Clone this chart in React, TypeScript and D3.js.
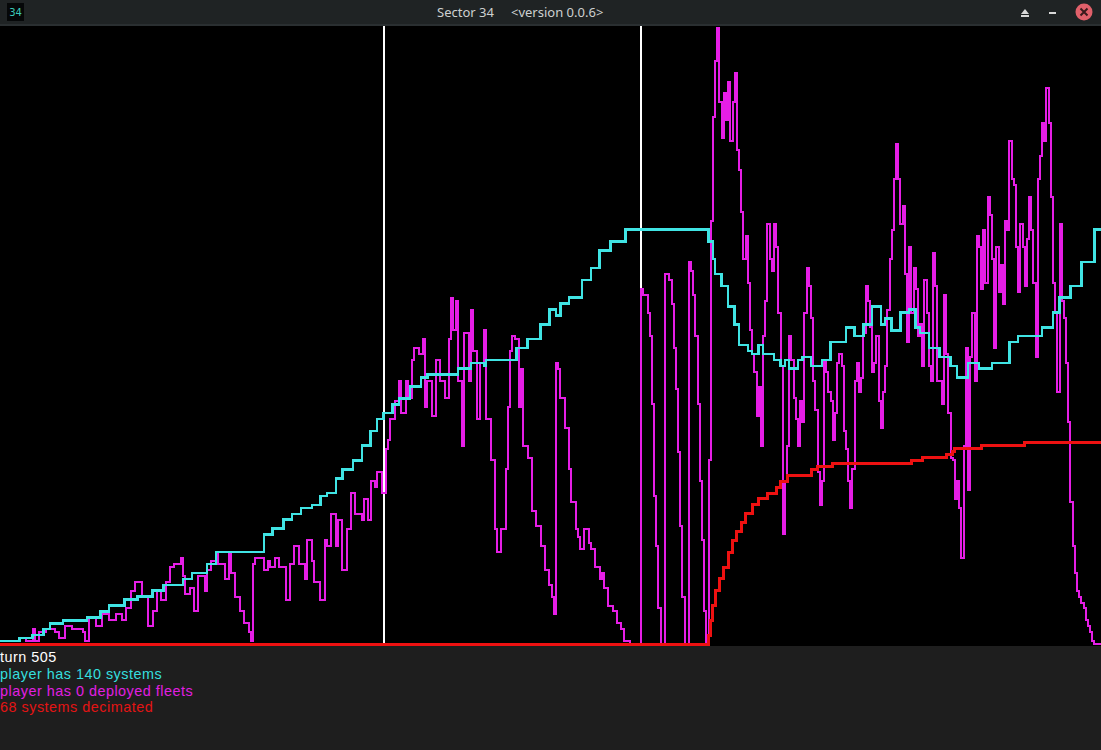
import React from "react";
import * as d3 from "d3";

// ---- data (turns / counts) ----
const TOTAL_TURNS = 505;
const markerTurns = [176, 294];

const systemTurns = [0, 9, 15, 20, 23, 29, 40, 46, 50, 57, 63, 70, 75, 84, 88, 95, 99, 121, 125, 130, 134, 138, 143, 147, 150, 154, 157, 162, 166, 170, 173, 176, 180, 183, 188, 193, 196, 210, 216, 222, 223, 237, 242, 248, 252, 255, 257, 261, 267, 271, 275, 280, 287, 325, 327, 328, 331, 334, 337, 339, 343, 345, 348, 350, 355, 358, 360, 362, 366, 368, 372, 377, 381, 388, 392, 396, 400, 404, 406, 409, 413, 417, 420, 422, 426, 431, 436, 439, 444, 449, 455, 460, 463, 467, 472, 478, 483, 486, 491, 496, 502, 505];
const systemValues = [1, 2, 3, 5, 7, 8, 9, 11, 13, 15, 16, 18, 20, 22, 24, 27, 31, 37, 39, 42, 44, 46, 47, 50, 51, 56, 59, 62, 67, 72, 76, 78, 81, 83, 87, 90, 91, 93, 95, 94, 96, 100, 103, 108, 113, 111, 115, 117, 123, 127, 133, 136, 140, 136, 130, 125, 121, 114, 108, 101, 99, 98, 101, 98, 96, 94, 96, 93, 96, 97, 94, 96, 102, 107, 104, 108, 114, 108, 110, 106, 112, 113, 107, 105, 100, 97, 94, 90, 95, 93, 95, 95, 102, 104, 104, 107, 112, 117, 121, 129, 140, 140];

const fleetTurns = [0, 5, 9, 12, 15, 16, 18, 21, 23, 25, 27, 30, 33, 36, 38, 39, 41, 44, 47, 50, 53, 56, 58, 60, 62, 65, 68, 70, 72, 74, 76, 78, 80, 83, 84, 85, 87, 89, 91, 94, 95, 97, 99, 100, 103, 105, 106, 108, 110, 112, 114, 115, 116, 117, 119, 121, 123, 124, 126, 128, 131, 133, 135, 137, 140, 141, 143, 144, 147, 149, 150, 152, 154, 155, 157, 159, 161, 163, 166, 167, 169, 170, 172, 173, 175, 177, 178, 179, 181, 183, 184, 186, 187, 189, 190, 192, 194, 195, 196, 198, 200, 202, 204, 206, 207, 208, 209, 210, 212, 213, 215, 216, 217, 219, 220, 222, 223, 225, 227, 228, 230, 232, 233, 234, 235, 236, 238, 239, 240, 242, 244, 246, 248, 250, 252, 253, 254, 255, 256, 257, 259, 261, 262, 264, 265, 266, 268, 270, 271, 273, 275, 276, 277, 279, 281, 283, 285, 286, 289, 293,
  294, 295, 296, 297, 298, 299, 300, 301, 302, 303, 304, 305, 306, 307, 308, 309, 310, 311, 312, 313, 314, 315, 316, 317, 318, 319, 320, 321, 322, 323, 324, 325, 326, 327, 328, 329, 330, 331, 332, 333, 334, 335, 336, 337, 338, 339, 340, 341, 342, 343, 344, 345, 346, 347, 348, 349, 350, 351, 352, 353, 354, 355, 356, 357, 358, 359, 360, 361, 362, 363, 364, 365, 366, 367,
  368, 369, 370, 371, 372, 373, 374, 375, 376, 377, 378, 379, 380, 381, 382, 383, 384, 385, 386, 387, 388, 389, 390, 391, 392, 393, 394, 395, 396, 397, 398, 399, 400, 401, 402, 403, 404, 405, 406, 407, 408, 409, 410, 411, 412, 413, 414, 415, 416, 417, 418, 419, 420, 421, 422, 423, 424, 425, 426, 427, 428, 429, 430, 431, 432, 433, 434, 435, 436, 437, 438, 439, 440, 441, 442, 443, 444, 445, 446, 447, 448, 449, 450, 451, 452, 453, 454, 455, 456, 457, 458, 459, 460, 461, 462, 463, 464, 465, 466, 467, 468, 469, 470, 471, 472, 473, 474, 475, 476, 477, 478, 479, 480, 481, 482, 483, 484, 485, 486, 487, 488, 489, 490, 491, 492, 493, 494, 495, 496, 497, 498, 499, 500, 501, 502, 505];
const fleetValues = [1, 1, 2, 1, 5, 1, 4, 5, 5, 4, 2, 6, 5, 5, 4, 1, 9, 6, 10, 8, 10, 8, 12, 18, 21, 16, 6, 11, 18, 15, 21, 26, 27, 29, 23, 17, 19, 11, 23, 18, 25, 28, 31, 27, 22, 31, 24, 16, 11, 7, 4, 1, 27, 29, 29, 25, 28, 26, 29, 26, 15, 27, 33, 27, 22, 35, 28, 21, 15, 35, 33, 44, 33, 42, 25, 39, 51, 44, 42, 49, 42, 55, 53, 58, 51, 66, 69, 76, 82, 89, 78, 89, 83, 96, 100, 98, 103, 80, 89, 77, 96, 89, 83, 103, 117, 106, 116, 89, 67, 105, 89, 113, 99, 76, 95, 106, 76, 62, 39, 31, 39, 59, 80, 99, 104, 103, 80, 93, 67, 63, 45, 40, 33, 25, 20, 16, 10, 95, 93, 83, 73, 59, 48, 39, 36, 32, 39, 34, 32, 26, 22, 24, 19, 13, 11, 7, 5, 1, 0, 0,
  120, 118, 118, 112, 104, 81, 50, 33, 12, 0, 0, 125, 125, 123, 115, 100, 86, 65, 40, 16, 0, 0, 129, 126, 118, 104, 81, 55, 35, 11, 0, 62, 143, 178, 197, 208, 183, 171, 186, 177, 190, 170, 183, 193, 167, 160, 146, 130, 138, 122, 106, 98, 92, 77, 87, 67, 104, 116, 142, 130, 126, 142, 134, 112, 94, 37, 55, 67, 104, 96, 83, 76, 67, 82,
  75, 112, 127, 121, 110, 89, 79, 58, 47, 55, 96, 92, 85, 82, 69, 78, 95, 98, 94, 72, 66, 55, 46, 59, 89, 95, 85, 90, 105, 121, 116, 107, 92, 95, 104, 82, 73, 85, 94, 113, 130, 140, 157, 169, 157, 142, 148, 125, 102, 134, 112, 127, 120, 104, 108, 94, 123, 112, 94, 89, 132, 121, 89, 89, 81, 118, 98, 78, 63, 62, 49, 55, 46, 29, 67, 100, 52, 97, 112, 89, 138, 134, 120, 140, 122, 151, 145, 130, 100, 134, 119, 128, 115, 143, 140, 170, 157, 155, 134, 119, 142, 134, 121, 137, 151, 140, 122, 97, 157, 165, 176, 170, 188, 176, 151, 122, 112, 85, 142, 116, 110, 95, 75, 48, 33, 24, 18, 16, 14, 12, 8, 6, 4, 1, 0, 0];

const decimatedTurns = [0, 324, 325, 326, 327, 328, 330, 332, 334, 336, 338, 340, 342, 345, 348, 352, 356, 358, 361, 372, 375, 382, 418, 423, 434, 437, 438, 450, 470, 505];
const decimatedValues = [0, 0, 3, 8, 13, 18, 22, 26, 31, 35, 38, 41, 44, 47, 49, 51, 53, 55, 57, 59, 60, 61, 62, 63, 64, 65, 66, 67, 68, 68];

const titleText = "Sector 34";
const versionText = "<version 0.0.6>";
const iconText = "34";
const statusTexts = [
  "turn 505",
  "player has 140 systems",
  "player has 0 deployed fleets",
  "68 systems decimated",
];

const zip = (ts: number[], vs: number[]): [number, number][] => ts.map((t, i) => [t, vs[i]]);

export default function App() {
  const W = 1101;
  const H = 750;
  const x = d3.scaleLinear().domain([0, TOTAL_TURNS]).range([0, W]);
  const y = d3.scaleLinear().domain([0, 208.8]).range([644, 26]);
  const line = d3
    .line<[number, number]>()
    .x((d) => x(d[0]))
    .y((d) => y(d[1]))
    .curve(d3.curveStepAfter);

  const statusColors = ["#ffffff", "#35dede", "#e21ee2", "#e41414"];

  return (
    <div style={{ position: "absolute", left: 0, top: 0, width: W, height: H, overflow: "hidden" }}>
      <svg width={W} height={H} style={{ display: "block" }}>
        <rect x={0} y={0} width={W} height={H} fill="#1e1e1e" />
        {/* title bar */}
        <rect x={0} y={0} width={W} height={26} fill="#1f2324" />
        <rect x={0} y={24} width={W} height={2} fill="#2a2f31" />
        <rect x={7} y={3} width={17} height={18} fill="#050708" />
        <text x={15.5} y={16} textAnchor="middle" fontFamily="'DejaVu Sans', sans-serif" fontSize={10} fill="#3cc9b8">
          {iconText}
        </text>
        <text x={437} y={17} fontFamily="'Noto Sans', sans-serif" fontSize={13} fill="#cdd0d0">
          {titleText}
        </text>
        <text x={511} y={17} fontFamily="'Noto Sans', sans-serif" fontSize={13} fill="#cdd0d0">
          {versionText}
        </text>
        <path d="M1021,14 L1025,9 L1029,14 Z" fill="#d8d8d8" />
        <rect x={1021} y={15} width={8} height={2} fill="#d8d8d8" />
        <rect x={1049} y={12} width={7} height={2} fill="#d8d8d8" />
        <circle cx={1084} cy={12} r={8.5} fill="#e0606a" />
        <path d="M1080.5,8.5 L1087.5,15.5 M1087.5,8.5 L1080.5,15.5" stroke="#3a1a1c" strokeWidth={2} />

        {/* plot */}
        <rect x={0} y={26} width={W} height={620} fill="#000000" />
        {markerTurns.map((t) => (
          <line key={t} x1={x(t)} x2={x(t)} y1={26} y2={644} stroke="#ffffff" strokeWidth={2} shapeRendering="crispEdges" />
        ))}
        <path d={line(zip(fleetTurns, fleetValues)) || ""} fill="none" stroke="#e61ee6" strokeWidth={2} shapeRendering="crispEdges" />
        <path d={line(zip(systemTurns, systemValues)) || ""} fill="none" stroke="#40e4e4" strokeWidth={2.5} shapeRendering="crispEdges" />
        <path d={line(zip(decimatedTurns, decimatedValues)) || ""} fill="none" stroke="#ee1111" strokeWidth={3} shapeRendering="crispEdges" />

        {/* status footer */}
        {statusTexts.map((s, i) => (
          <text
            key={s}
            x={0}
            y={662 + i * 16.8}
            fontFamily="'Liberation Sans', Arial, sans-serif"
            fontSize={14.4}
            letterSpacing={0.5}
            fill={statusColors[i]}
          >
            {s}
          </text>
        ))}
      </svg>
    </div>
  );
}
